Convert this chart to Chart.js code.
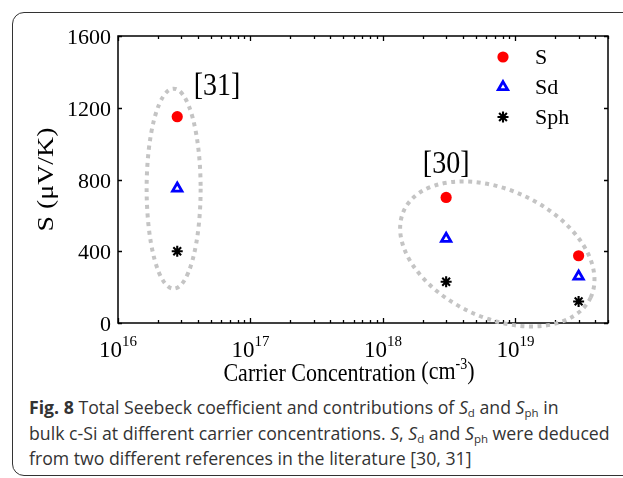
<!DOCTYPE html>
<html>
<head>
<meta charset="utf-8">
<script src="https://cdn.jsdelivr.net/npm/chart.js@4.4.1/dist/chart.umd.min.js"></script>
<style>
  body { margin: 0; width: 623px; height: 478px; background: #fff; position: relative; overflow: hidden; }
  #frame { position: absolute; left: 12px; top: 12px; width: 660px; height: 462px;
           border: 1.5px solid #333; border-radius: 12px; }
  #wrap { position: absolute; left: 0; top: 0; width: 623px; height: 390px; }
  #caption { position: absolute; left: 29px; top: 395px; width: 600px;
             font-family: "Open Sans"; font-size: 17.7px; line-height: 25.5px; color: #333; white-space: nowrap; }
  #caption sub { font-size: 11.5px; vertical-align: -3px; line-height: 0; }
</style>
</head>
<body>
<div id="frame"></div>
<div id="wrap"><canvas id="chart" width="623" height="390"></canvas></div>
<div id="caption"><b>Fig. 8</b> Total Seebeck coefficient and contributions of <i>S</i><sub>d</sub> and <i>S</i><sub>ph</sub> in<br>bulk c-Si at different carrier concentrations. <i>S</i>, <i>S</i><sub>d</sub> and <i>S</i><sub>ph</sub> were deduced<br>from two different references in the literature [30, 31]</div>

<script>
// data
const concentration = [2.8e16, 3e18, 3e19];   // cm^-3
const sTotal = [1150, 700, 375];               // S
const sDrift = [750, 470, 260];                // Sd
const sPhonon = [400, 230, 120];               // Sph
const seriesNames = ['S', 'Sd', 'Sph'];
const xDecades = [16, 17, 18, 19];
const yTicks = [0, 400, 800, 1200, 1600];

// reference groups (dotted ellipses + labels)
const groups = [
  { label: '[31]', cx: 2.63e16, cy: 749, rx: 27, ry: 100, rot: 0, lx: 5.6e16, ly: 1326 },
  { label: '[30]', cx: 7.3e18, cy: 385, rx: 103, ry: 64, rot: 25, lx: 3e18, ly: 892 }
];

const SERIF = '"Liberation Serif", "Times New Roman", serif';

function toPoints(vals) {
  return vals.map((v, i) => ({ x: concentration[i], y: v }));
}

function drawText(ctx, txt, x, y, size, align, sy) {
  ctx.save();
  ctx.translate(x, y);
  ctx.scale(1, sy || 1);
  ctx.font = size + 'px ' + SERIF;
  ctx.textAlign = align;
  ctx.textBaseline = 'alphabetic';
  ctx.fillStyle = '#000';
  ctx.fillText(txt, 0, 0);
  ctx.restore();
}

// box, inward ticks and the dotted ellipses
const framePlugin = {
  id: 'framePlugin',
  beforeDatasetsDraw(chart) {
    const { ctx, chartArea: a, scales: { x, y } } = chart;
    ctx.save();
    ctx.strokeStyle = '#000';
    ctx.lineWidth = 1.5;
    ctx.strokeRect(a.left, a.top, a.right - a.left, a.bottom - a.top);

    ctx.lineWidth = 1.3;
    ctx.beginPath();
    x.ticks.forEach(t => {
      const px = Math.round(x.getPixelForValue(t.value)) + 0.5;
      const len = t.major ? 5 : 3;
      ctx.moveTo(px, a.bottom); ctx.lineTo(px, a.bottom - len);
      ctx.moveTo(px, a.top); ctx.lineTo(px, a.top + len);
    });
    y.ticks.forEach(t => {
      const py = Math.round(y.getPixelForValue(t.value)) + 0.5;
      ctx.moveTo(a.left, py); ctx.lineTo(a.left + 4, py);
      ctx.moveTo(a.right, py); ctx.lineTo(a.right - 4, py);
    });
    ctx.stroke();

    // dotted ellipses
    ctx.strokeStyle = '#c4c4c4';
    ctx.lineWidth = 4;
    ctx.setLineDash([4, 4.5]);
    groups.forEach(g => {
      ctx.beginPath();
      ctx.ellipse(x.getPixelForValue(g.cx), y.getPixelForValue(g.cy), g.rx, g.ry,
                  g.rot * Math.PI / 180, 0, Math.PI * 2);
      ctx.stroke();
    });
    ctx.restore();
  },
  afterDraw(chart) {
    const { ctx, chartArea: a, scales: { x, y } } = chart;

    // y tick labels
    y.ticks.forEach(t => {
      drawText(ctx, String(t.value), a.left - 7, y.getPixelForValue(t.value) + 8, 22, 'right');
    });

    // x tick labels 10^n
    x.ticks.filter(t => t.major).forEach(t => {
      const px = x.getPixelForValue(t.value);
      const exp = String(Math.round(Math.log10(t.value)));
      ctx.font = '23px ' + SERIF;
      const w1 = ctx.measureText('10').width;
      ctx.font = '15px ' + SERIF;
      const w2 = ctx.measureText(exp).width;
      const x0 = px - (w1 + w2) / 2;
      drawText(ctx, '10', x0, a.bottom + 34, 23, 'left');
      drawText(ctx, exp, x0 + w1, a.bottom + 23, 15, 'left');
    });

    // x title
    const t1 = 'Carrier Concentration', t2 = '(cm', t3 = '-3', t4 = ')';
    ctx.font = '22px ' + SERIF;
    const w1 = ctx.measureText(t1 + ' ').width, w2 = ctx.measureText(t2).width, w4 = ctx.measureText(t4).width;
    ctx.font = '14px ' + SERIF;
    const w3 = ctx.measureText(t3).width;
    let xs = (a.left + a.right) / 2 - 14 - (w1 + w2 + w3 + w4) / 2;
    drawText(ctx, t1, xs, a.bottom + 58, 22, 'left', 1.14);
    xs += w1;
    drawText(ctx, t2, xs, a.bottom + 56, 22, 'left', 1.14);
    xs += w2;
    drawText(ctx, t3, xs, a.bottom + 46, 14, 'left', 1.14);
    xs += w3;
    drawText(ctx, t4, xs, a.bottom + 56, 22, 'left', 1.14);

    // y title
    ctx.save();
    ctx.translate(47, (a.top + a.bottom) / 2);
    ctx.rotate(-Math.PI / 2);
    ctx.scale(1.16, 1);
    ctx.font = '24px ' + SERIF;
    ctx.textAlign = 'center';
    ctx.textBaseline = 'middle';
    ctx.fillStyle = '#000';
    ctx.fillText('S (\u03bcV/K)', 0, 0);
    ctx.restore();

    // group labels
    groups.forEach(g => {
      drawText(ctx, g.label, x.getPixelForValue(g.lx), y.getPixelForValue(g.ly) + 10, 28, 'center', 1.15);
    });

    // legend
    chart.data.datasets.forEach((ds, i) => {
      const ly = a.top + 21 + i * 30;
      ctx.save();
      ctx.lineWidth = ds.borderWidth;
      ctx.strokeStyle = ds.borderColor;
      ctx.fillStyle = ds.backgroundColor;
      Chart.helpers.drawPoint(ctx, { pointStyle: ds.pointStyle, rotation: 0, borderWidth: ds.borderWidth, radius: ds.pointRadius },
                              a.right - 105, ly);
      ctx.restore();
      drawText(ctx, ds.label, a.right - 73, ly + 7, 22, 'left');
    });
  }
};

new Chart(document.getElementById('chart'), {
  type: 'scatter',
  data: {
    datasets: [
      { label: seriesNames[0], data: toPoints(sTotal), pointStyle: 'circle', pointRadius: 5.6,
        backgroundColor: '#ff0000', borderColor: '#ff0000', borderWidth: 0, clip: false },
      { label: seriesNames[1], data: toPoints(sDrift), pointStyle: 'triangle', pointRadius: 5.4,
        backgroundColor: 'rgba(0,0,0,0)', borderColor: '#0000ff', borderWidth: 2.8, clip: false },
      { label: seriesNames[2], data: toPoints(sPhonon), pointStyle: 'star', pointRadius: 5.5,
        backgroundColor: '#000', borderColor: '#000', borderWidth: 2.1, clip: false }
    ]
  },
  options: {
    responsive: false,
    animation: false,
    devicePixelRatio: 1,
    layout: { padding: { left: 0, right: 15, top: 36, bottom: 0 } },
    plugins: { legend: { display: false }, tooltip: { enabled: false } },
    scales: {
      x: {
        type: 'logarithmic', min: 1e16, max: 5e19,
        grid: { display: false }, border: { display: false },
        ticks: { display: false },
        afterBuildTicks: scale => {
          const list = [];
          xDecades.forEach(d => {
            for (let m = 1; m <= 9; m++) {
              const v = m * Math.pow(10, d);
              if (v <= scale.max) list.push({ value: v, major: m === 1 });
            }
          });
          scale.ticks = list;
        },
        afterFit: scale => { scale.height = 67; }
      },
      y: {
        min: 0, max: 1600,
        grid: { display: false }, border: { display: false },
        ticks: { display: false },
        afterBuildTicks: scale => { scale.ticks = yTicks.map(v => ({ value: v })); },
        afterFit: scale => { scale.width = 118; }
      }
    }
  },
  plugins: [framePlugin]
});
</script>
</body>
</html>
